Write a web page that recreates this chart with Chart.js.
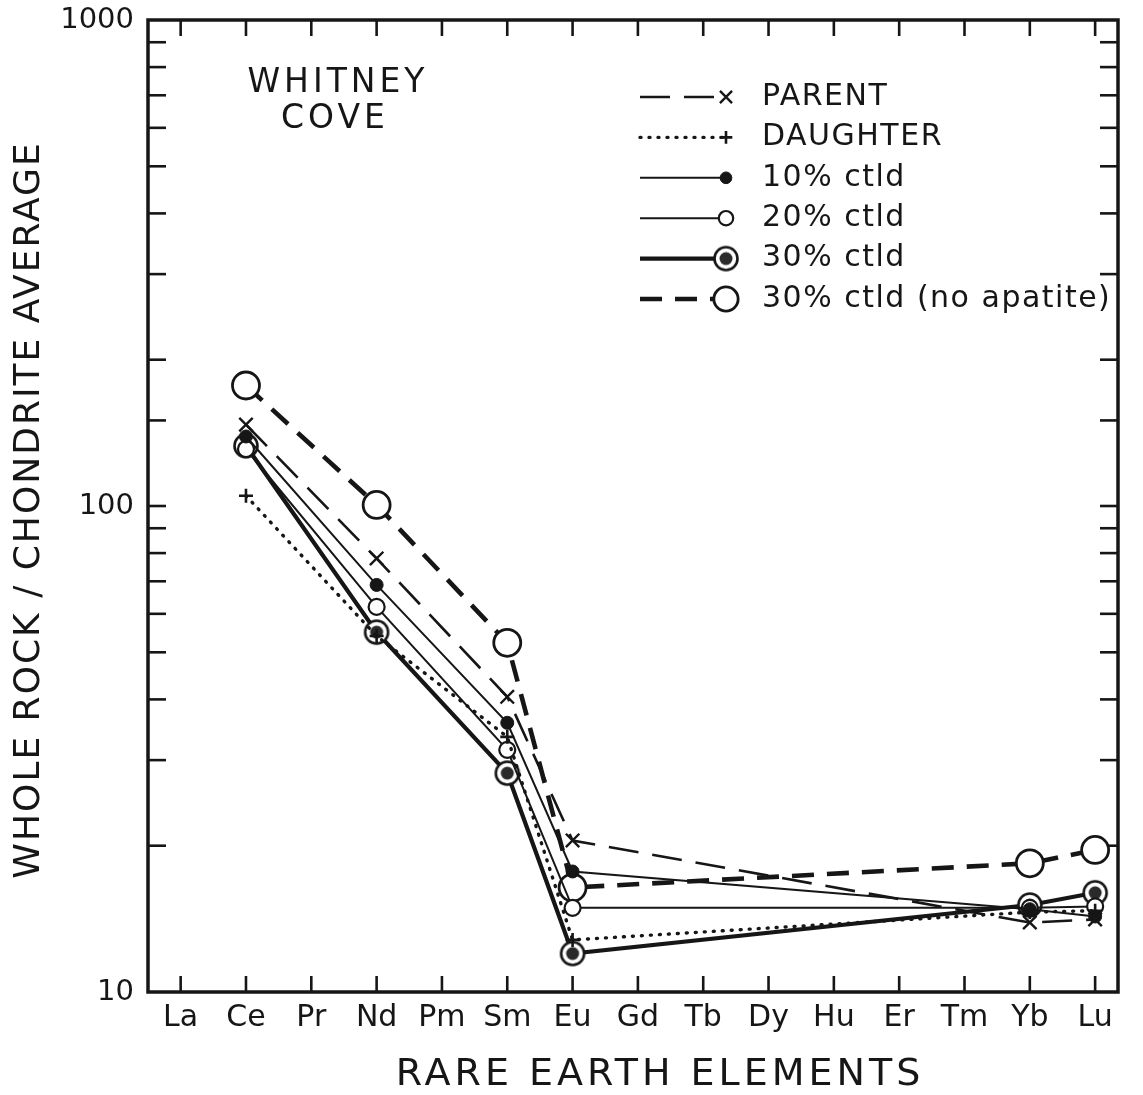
<!DOCTYPE html>
<html>
<head>
<meta charset="utf-8">
<script src="https://cdn.jsdelivr.net/npm/chart.js@4.4.0/dist/chart.umd.min.js"></script>
<style>
  html, body { margin: 0; padding: 0; background: #fff; }
  #wrap { width: 1143px; height: 1095px; }
</style>
</head>
<body>
<div id="wrap"><canvas id="reeChart" width="1143" height="1095"></canvas></div>
<script>
// rare earth elements along the x axis
const elements = ['La', 'Ce', 'Pr', 'Nd', 'Pm', 'Sm', 'Eu', 'Gd', 'Tb', 'Dy', 'Hu', 'Er', 'Tm', 'Yb', 'Lu'];
// elements that were actually measured
const sampled = ['Ce', 'Nd', 'Sm', 'Eu', 'Yb', 'Lu'];

// whole rock / chondrite values, one per sampled element
const parent     = [147, 78, 40.5, 20.5, 13.9, 14.1];
const daughter   = [105, 54, 33.5, 12.8, 14.6, 14.7];
const ctld10     = [139, 68.8, 35.8, 17.7, 14.8, 14.3];
const ctld20     = [131, 62, 31.5, 14.9, 14.9, 15.0];
const ctld30     = [133, 55, 28.2, 12.0, 15.1, 16.0];
const noApatite  = [177, 100.5, 52.3, 16.4, 18.4, 19.6];

const seriesNames = ['PARENT', 'DAUGHTER', '10% ctld', '20% ctld', '30% ctld', '30% ctld (no apatite)'];
const seriesValues = [parent, daughter, ctld10, ctld20, ctld30, noApatite];
const yLabelValues = [10, 100, 1000];

const INK = '#161616';
const FONT = "'DejaVu Sans', sans-serif";

// circle with a dark dot inside, for the 30% ctld series
function ringDot() {
  const c = document.createElement('canvas');
  c.width = 30; c.height = 30;
  const g = c.getContext('2d');
  g.beginPath();
  g.arc(15, 15, 11.5, 0, Math.PI * 2);
  g.fillStyle = '#fff';
  g.fill();
  g.lineWidth = 2.6;
  g.strokeStyle = INK;
  g.stroke();
  g.beginPath();
  g.arc(15, 15, 6.5, 0, Math.PI * 2);
  g.fillStyle = '#2a2a2a';
  g.fill();
  return c;
}

const styles = [
  { dash: [30, 14], width: 2.6, point: 'crossRot', radius: 9.5, pw: 2.4, fill: INK },
  { dash: [1, 8],   width: 3.4, point: 'cross',    radius: 7,   pw: 2.6, fill: INK, cap: 'round' },
  { dash: [],       width: 2,   point: 'circle',   radius: 6.5, pw: 1,   fill: INK },
  { dash: [],       width: 2,   point: 'circle',   radius: 8,   pw: 2.2, fill: '#fff' },
  { dash: [],       width: 4.2, point: ringDot(),  radius: 12,  pw: 0,   fill: '#fff' },
  { dash: [22, 13], width: 4.6, point: 'circle',   radius: 13.5, pw: 2.8, fill: '#fff' },
];

const datasets = seriesNames.map((name, i) => {
  const st = styles[i];
  return {
    label: name,
    data: sampled.map((el, j) => ({ x: elements.indexOf(el), y: seriesValues[i][j] })),
    borderColor: INK,
    borderWidth: st.width,
    borderDash: st.dash,
    borderCapStyle: st.cap || 'butt',
    pointStyle: st.point,
    pointRadius: st.radius,
    pointHoverRadius: st.radius,
    pointBorderWidth: st.pw,
    pointBackgroundColor: st.fill,
    pointBorderColor: INK,
    tension: 0,
    fill: false,
  };
});

function line(ctx, x1, y1, x2, y2) {
  ctx.beginPath();
  ctx.moveTo(x1, y1);
  ctx.lineTo(x2, y2);
  ctx.stroke();
}

function noPadding(s) {
  s.paddingTop = 0;
  s.paddingBottom = 0;
  s.paddingLeft = 0;
  s.paddingRight = 0;
}

const framePlugin = {
  id: 'frame',
  beforeDatasetsDraw(chart) {
    const { ctx, chartArea: a, scales: { x, y } } = chart;
    ctx.save();
    ctx.strokeStyle = INK;
    ctx.lineWidth = 3.5;
    ctx.strokeRect(a.left, a.top, a.right - a.left, a.bottom - a.top);
    ctx.lineWidth = 2.6;
    y.ticks.forEach(t => {
      if (t.value <= 10 || t.value >= 1000) return;
      const py = y.getPixelForValue(t.value);
      line(ctx, a.left, py, a.left + 18, py);
      line(ctx, a.right, py, a.right - 18, py);
    });
    x.ticks.forEach(t => {
      const px = x.getPixelForValue(t.value);
      line(ctx, px, a.top, px, a.top + 16);
      line(ctx, px, a.bottom, px, a.bottom - 16);
    });
    ctx.restore();
  },
  afterDraw(chart) {
    const { ctx } = chart;
    ctx.save();
    ctx.fillStyle = INK;
    ctx.textBaseline = 'middle';

    // axis titles
    ctx.textAlign = 'center';
    ctx.font = `38px ${FONT}`;
    ctx.letterSpacing = '4px';
    ctx.fillText('RARE EARTH ELEMENTS', 660, 1075);

    ctx.save();
    ctx.translate(30, 510);
    ctx.rotate(-Math.PI / 2);
    ctx.font = `36px ${FONT}`;
    ctx.letterSpacing = '2px';
    ctx.fillText('WHOLE ROCK / CHONDRITE AVERAGE', 0, 0);
    ctx.restore();

    // locality label
    ctx.font = `33px ${FONT}`;
    ctx.letterSpacing = '4px';
    ctx.fillText('WHITNEY', 338, 83);
    ctx.fillText('COVE', 335, 119);

    // legend
    ctx.textAlign = 'left';
    ctx.font = `30px ${FONT}`;
    ctx.letterSpacing = '1.5px';
    chart.data.datasets.forEach((ds, i) => {
      const ly = 97 + i * 40.4;
      ctx.save();
      ctx.strokeStyle = INK;
      ctx.lineWidth = ds.borderWidth;
      ctx.lineCap = ds.borderCapStyle;
      ctx.setLineDash(ds.borderDash);
      line(ctx, 640, ly, 726, ly);
      ctx.setLineDash([]);
      ctx.lineCap = 'butt';
      ctx.lineWidth = ds.pointBorderWidth;
      ctx.fillStyle = ds.pointBackgroundColor;
      Chart.helpers.drawPoint(ctx, {
        pointStyle: ds.pointStyle,
        radius: ds.pointRadius * 0.9,
        borderWidth: ds.pointBorderWidth,
        rotation: 0,
      }, 726, ly);
      ctx.restore();
      ctx.fillText(ds.label, 762, ly);
    });
    ctx.restore();
  },
};

new Chart(document.getElementById('reeChart'), {
  type: 'line',
  data: { datasets },
  plugins: [framePlugin],
  options: {
    responsive: false,
    animation: false,
    events: [],
    layout: { padding: { top: 20, right: 25, left: 0, bottom: 0 } },
    plugins: {
      legend: { display: false },
      tooltip: { enabled: false },
    },
    scales: {
      x: {
        type: 'linear',
        min: -0.5,
        max: 14.35,
        afterFit: s => { s.height = 103; noPadding(s); },
        afterBuildTicks: s => { s.ticks = elements.map((_, i) => ({ value: i })); },
        grid: { display: false, drawTicks: false },
        border: { display: false },
        ticks: {
          autoSkip: false,
          maxRotation: 0,
          padding: 8,
          color: INK,
          font: { family: FONT, size: 30 },
          callback: v => elements[v],
        },
      },
      y: {
        type: 'logarithmic',
        min: 10,
        max: 1000,
        afterFit: s => { s.width = 148; noPadding(s); },
        grid: { display: false, drawTicks: false },
        border: { display: false },
        ticks: {
          autoSkip: false,
          padding: 14,
          color: INK,
          font: { family: FONT, size: 29 },
          callback: v => (yLabelValues.includes(v) ? String(v) : ''),
        },
      },
    },
  },
});
</script>
</body>
</html>
